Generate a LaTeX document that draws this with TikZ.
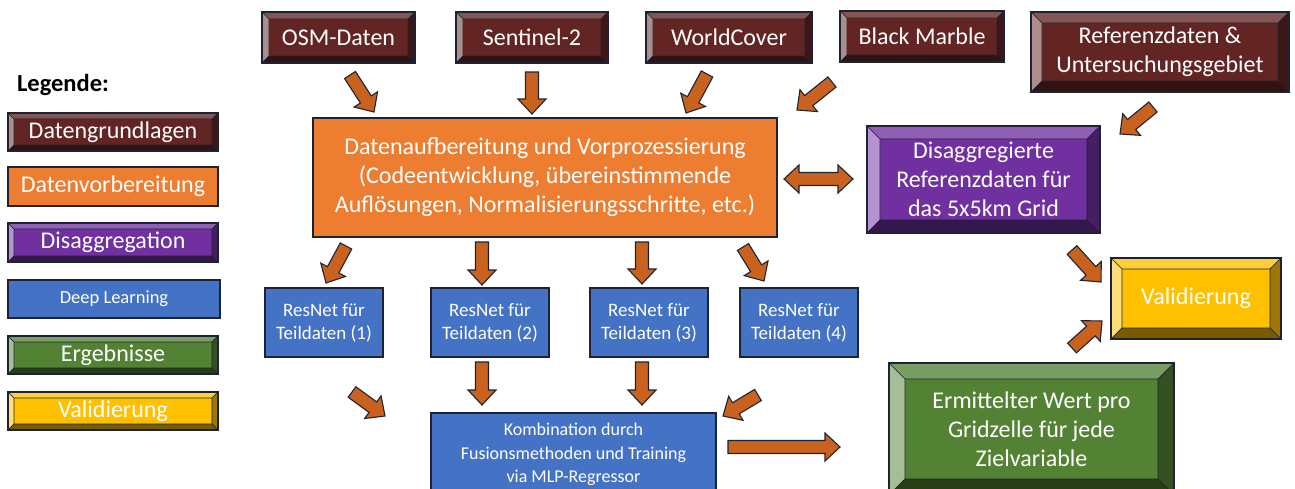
\documentclass[tikz,border=0pt]{standalone}
\usepackage{fontspec}
\setmainfont{Carlito}
\usetikzlibrary{calc}
\definecolor{edge}{RGB}{28,36,52}
\definecolor{dred}{RGB}{99,37,35}
\definecolor{orng}{RGB}{237,125,49}
\definecolor{purp}{RGB}{112,48,160}
\definecolor{blu}{RGB}{68,114,196}
\definecolor{grn}{RGB}{84,130,53}
\definecolor{yel}{RGB}{255,192,0}
\definecolor{arrfill}{RGB}{200,98,30}
\def\fasw{6.5pt}
\def\fahw{14pt}
\def\fahl{15pt}
\newcommand\fatarrow[2]{%
  \coordinate (fah) at ($(#2)!\fahl!(#1)$);
  \draw[fatarr] ($(#1)!\fasw!90:(#2)$) -- ($(fah)!\fasw!90:(#2)$) -- ($(fah)!\fahw!90:(#2)$) -- (#2)
    -- ($(fah)!\fahw!-90:(#2)$) -- ($(fah)!\fasw!-90:(#2)$) -- ($(#1)!\fasw!-90:(#2)$) -- cycle;}
\newcommand\fatdarrow[2]{%
  \coordinate (fha) at ($(#1)!\fahl!(#2)$);
  \coordinate (fhb) at ($(#2)!\fahl!(#1)$);
  \draw[fatarr] (#1) -- ($(fha)!\fahw!90:(#2)$) -- ($(fha)!\fasw!90:(#2)$) -- ($(fhb)!\fasw!90:(#2)$)
    -- ($(fhb)!\fahw!90:(#2)$) -- (#2) -- ($(fhb)!\fahw!-90:(#2)$) -- ($(fhb)!\fasw!-90:(#2)$)
    -- ($(fha)!\fasw!-90:(#2)$) -- ($(fha)!\fahw!-90:(#2)$) -- cycle;}
\tikzset{
  box/.style={draw=edge, line width=1.2pt, text=white, align=center, inner sep=0pt, outer sep=0pt},
  plainbox/.style={box, fill=#1},
  bevelbox/.style 2 args={box, fill=#1, path picture={
    \coordinate (pnw) at (path picture bounding box.north west);
    \coordinate (pne) at (path picture bounding box.north east);
    \coordinate (psw) at (path picture bounding box.south west);
    \coordinate (pse) at (path picture bounding box.south east);
    \coordinate (inw) at ($(pnw)+(#2pt,-#2pt)$);
    \coordinate (ine) at ($(pne)+(-#2pt,-#2pt)$);
    \coordinate (isw) at ($(psw)+(#2pt,#2pt)$);
    \coordinate (ise) at ($(pse)+(-#2pt,#2pt)$);
    \filldraw[fill=#1!78!white, draw=edge, line width=0.6pt] (pnw) -- (pne) -- (ine) -- (inw) -- cycle;
    \filldraw[fill=#1!52!white, draw=edge, line width=0.6pt] (pnw) -- (inw) -- (isw) -- (psw) -- cycle;
    \filldraw[fill=#1!62!black, draw=edge, line width=0.6pt] (pne) -- (pse) -- (ise) -- (ine) -- cycle;
    \filldraw[fill=#1!48!black, draw=edge, line width=0.6pt] (psw) -- (isw) -- (ise) -- (pse) -- cycle;
  }},
  big/.style={font=\fontsize{24}{29}\selectfont},
  mid/.style={font=\fontsize{19}{23}\selectfont},
  small/.style={font=\fontsize{18}{23.5}\selectfont},
  fatarr/.style={fill=arrfill, draw=edge, line width=1.1pt, line join=miter},
}
\begin{document}
\begin{tikzpicture}[x=1pt,y=-1pt]
\useasboundingbox (0,0) rectangle (1295,488);
\fill[white] (0,0) rectangle (1295,488);
\clip (0,0) rectangle (1295,488);

% legend
\node[font=\fontsize{24.5}{29}\selectfont\bfseries, text=black] (leg) at (63,85) {Legende:};
\node[bevelbox={dred}{6}, big, minimum width=210pt, minimum height=38pt] (l1) at (113,132) {Datengrundlagen};
\node[plainbox=orng, big, minimum width=210pt, minimum height=39pt] (l2) at (113,186.5) {Datenvorbereitung};
\node[bevelbox={purp}{6}, big, minimum width=210pt, minimum height=39pt] (l3) at (113,242.5) {Disaggregation};
\node[plainbox=blu, font=\fontsize{18.5}{22}\selectfont, minimum width=212pt, minimum height=38pt] (l4) at (114,299) {Deep Learning};
\node[bevelbox={grn}{6}, big, minimum width=210pt, minimum height=38pt] (l5) at (113,355) {Ergebnisse};
\node[bevelbox={yel}{6}, big, minimum width=210pt, minimum height=38pt] (l6) at (113,411) {Validierung};

% data sources
\node[bevelbox={dred}{7}, big, minimum width=153pt, minimum height=51pt] (osm) at (338.5,37.5) {OSM-Daten};
\node[bevelbox={dred}{7}, big, minimum width=152pt, minimum height=51pt] (sen) at (532,37.5) {Sentinel-2};
\node[bevelbox={dred}{7}, big, minimum width=166pt, minimum height=51pt] (wc) at (729,37.5) {WorldCover};
\node[bevelbox={dred}{7}, big, minimum width=164pt, minimum height=51pt] (bm) at (922,36.5) {Black Marble};
\node[bevelbox={dred}{11}, big, minimum width=258pt, minimum height=80pt] (ref) at (1160,52) {Referenzdaten \&\\Untersuchungsgebiet};

% processing
\node[plainbox=orng, big, minimum width=464pt, minimum height=119pt] (prep) at (545,177.5)
  {Datenaufbereitung und Vorprozessierung\\(Codeentwicklung, übereinstimmende\\Auflösungen, Normalisierungsschritte, etc.)};
\node[bevelbox={purp}{13}, big, minimum width=233pt, minimum height=107pt] (dis) at (983.5,179.5)
  {Disaggregierte\\Referenzdaten für\\das 5x5km Grid};

% ResNets
\node[plainbox=blu, mid, minimum width=118pt, minimum height=69pt] (r1) at (324,322.5) {ResNet für\\Teildaten (1)};
\node[plainbox=blu, mid, minimum width=118pt, minimum height=69pt] (r2) at (490,322.5) {ResNet für\\Teildaten (2)};
\node[plainbox=blu, mid, minimum width=118pt, minimum height=69pt] (r3) at (649,322.5) {ResNet für\\Teildaten (3)};
\node[plainbox=blu, mid, minimum width=118pt, minimum height=69pt] (r4) at (799,322.5) {ResNet für\\Teildaten (4)};
\node[plainbox=blu, small, minimum width=285pt, minimum height=83pt] (komb) at (573.5,454.5)
  {Kombination durch\\Fusionsmethoden und Training\\via MLP-Regressor};

% results
\node[bevelbox={yel}{11}, big, minimum width=170pt, minimum height=81pt] (val) at (1196,298.5) {Validierung};
\node[bevelbox={grn}{16}, big, minimum width=285pt, minimum height=132pt] (erg) at (1031.5,429)
  {Ermittelter Wert pro\\Gridzelle für jede\\Zielvariable};

% arrow end points
\coordinate (a1s) at (350,75);   \coordinate (a1e) at (374,112);
\coordinate (a2s) at (532,72);   \coordinate (a2e) at (532,114);
\coordinate (a3s) at (707,74);   \coordinate (a3e) at (686,113);
\coordinate (a4s) at (832,82);   \coordinate (a4e) at (797,110);
\coordinate (a5s) at (1153,107); \coordinate (a5e) at (1120,134);
\coordinate (a6s) at (784,179);  \coordinate (a6e) at (853,179);
\coordinate (a7s) at (346,246);  \coordinate (a7e) at (326,283);
\coordinate (a8s) at (482,242);  \coordinate (a8e) at (482,285);
\coordinate (a9s) at (642,242);  \coordinate (a9e) at (642,284);
\coordinate (a10s) at (743,247); \coordinate (a10e) at (764,281);
\coordinate (a11s) at (352,392); \coordinate (a11e) at (385,416);
\coordinate (a12s) at (482,362); \coordinate (a12e) at (482,405);
\coordinate (a13s) at (642,362); \coordinate (a13e) at (642,405);
\coordinate (a14s) at (758,395); \coordinate (a14e) at (723,416);
\coordinate (a15s) at (728,447); \coordinate (a15e) at (840,447);
\coordinate (a16s) at (1072,250); \coordinate (a16e) at (1101,282);
\coordinate (a17s) at (1072,348); \coordinate (a17e) at (1102,321);

\fatarrow{a1s}{a1e}
\fatarrow{a2s}{a2e}
\fatarrow{a3s}{a3e}
\fatarrow{a4s}{a4e}
\fatarrow{a5s}{a5e}
\fatdarrow{a6s}{a6e}
\fatarrow{a7s}{a7e}
\fatarrow{a8s}{a8e}
\fatarrow{a9s}{a9e}
\fatarrow{a10s}{a10e}
\fatarrow{a11s}{a11e}
\fatarrow{a12s}{a12e}
\fatarrow{a13s}{a13e}
\fatarrow{a14s}{a14e}
\fatarrow{a15s}{a15e}
\fatarrow{a16s}{a16e}
\fatarrow{a17s}{a17e}
\end{tikzpicture}
\end{document}
